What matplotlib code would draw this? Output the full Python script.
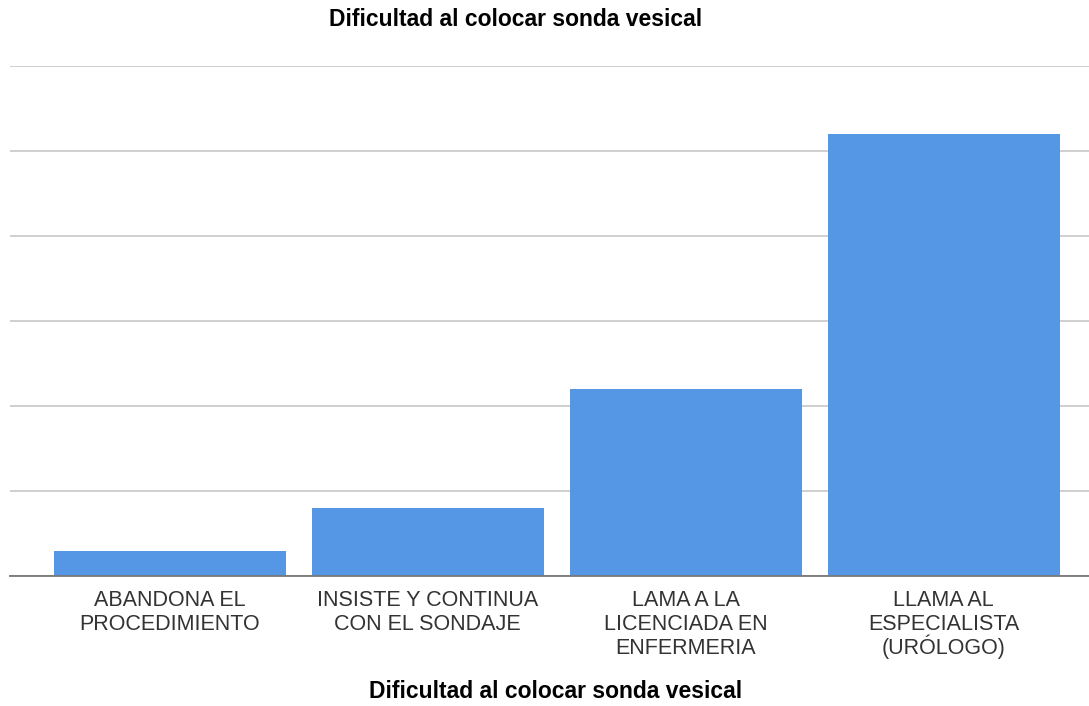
import matplotlib
matplotlib.use("Agg")
import matplotlib.pyplot as plt

categorias = ["ABANDONA EL\nPROCEDIMIENTO",
              "INSISTE Y CONTINUA\nCON EL SONDAJE",
              "LAMA A LA\nLICENCIADA EN\nENFERMERIA",
              "LLAMA AL\nESPECIALISTA\n(URÓLOGO)"]
valores = [3, 8, 22, 52]
titulo = "Dificultad al colocar sonda vesical"

plt.rcParams['font.family'] = ['Liberation Sans', 'DejaVu Sans']

fig = plt.figure(figsize=(10.89, 7.06), dpi=100)
ax = fig.add_axes([10 / 1089, 130 / 706, 1 - 10 / 1089, 510 / 706])

x = list(range(len(valores)))
ax.bar(x, valores, width=0.9, color="#5596e5", zorder=3)

ax.set_ylim(0, 60)
ax.set_yticks(range(0, 61, 10))
ax.set_xlim(-0.62, 3.564)
ax.yaxis.grid(True, color="#cccccc", linewidth=1.3, zorder=0)
ax.tick_params(axis="y", left=False, labelleft=False)
ax.set_xticks(x)
ax.tick_params(axis="x", length=0, labelbottom=False)

# category labels line by line, so the accented line keeps the same pitch
for i, cat in enumerate(categorias):
    for j, linea in enumerate(cat.split("\n")):
        ax.annotate(linea, xy=(i, 0), xycoords=("data", "axes fraction"),
                    xytext=(0, -30 - 24 * j), textcoords="offset pixels",
                    ha="center", va="baseline", fontsize=15.5, color="#333333")

for s in ["top", "right", "left"]:
    ax.spines[s].set_visible(False)
ax.spines["bottom"].set_color("#777777")
ax.spines["bottom"].set_linewidth(1.3)
ax.spines["bottom"].set_zorder(4)

fig.text(516 / 1089, 1 - 20 / 706, titulo, ha="center", va="center",
         fontsize=16.5, fontweight="bold")
fig.text(556 / 1089, 1 - 692 / 706, titulo, ha="center", va="center",
         fontsize=16.5, fontweight="bold")

fig.savefig("out.png", dpi=100)
